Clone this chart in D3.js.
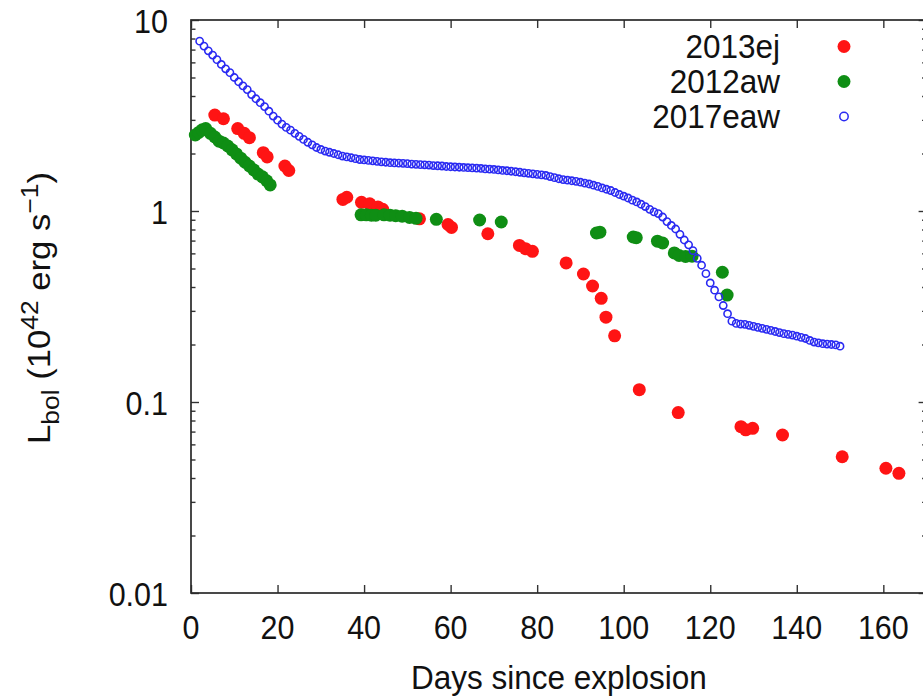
<!DOCTYPE html>
<html>
<head>
<meta charset="utf-8">
<script src="https://cdn.jsdelivr.net/npm/d3@7"></script>
<style>
  body { margin: 0; background: #fff; }
  svg { display: block; }
  text { font-family: "Liberation Sans", Arial, Helvetica, sans-serif; fill: #111; }
</style>
</head>
<body>
<svg id="chart" width="923" height="700"></svg>
<script>
// Bolometric light curves: days since explosion vs L_bol (10^42 erg/s)

// SN 2013ej
const ej13Days = [5.5, 7.5, 10.8, 12.3, 13.5, 16.7, 17.6, 21.7, 22.6,
  35.1, 36.0, 39.4, 41.3, 43.2, 44.3, 52.8, 59.4, 60.2, 68.6, 75.9, 77.3, 78.9,
  86.7, 90.7, 92.8, 94.8, 95.9, 97.9, 103.6, 112.6, 127.1, 128.2, 129.8, 136.7,
  150.5, 160.6, 163.6];
const ej13Lum = [3.18, 3.04, 2.70, 2.55, 2.42, 2.02, 1.92, 1.72, 1.63,
  1.15, 1.18, 1.11, 1.09, 1.05, 1.02, 0.91, 0.85, 0.82, 0.76, 0.66, 0.635, 0.615,
  0.535, 0.468, 0.405, 0.349, 0.278, 0.222, 0.116, 0.088, 0.0743, 0.0715, 0.0728, 0.0672,
  0.0517, 0.045, 0.0423];

// SN 2012aw
const aw12Days = [1.0, 1.8, 2.6, 3.4, 4.5, 5.5, 6.5, 7.5, 8.5, 9.5, 10.5, 11.5, 12.5,
  13.5, 14.5, 15.5, 16.5, 17.5, 18.3,
  39.3, 40.5, 41.7, 42.7, 44.6, 46.0, 47.3, 48.8, 50.5, 52.0, 56.7, 66.7, 71.7,
  93.7, 94.5, 102.2, 102.9, 107.8, 109.0, 111.7, 112.8, 114.3, 115.8, 122.8, 123.9];
const aw12Lum = [2.50, 2.58, 2.66, 2.70, 2.55, 2.44, 2.32, 2.27, 2.19, 2.09, 1.99, 1.89, 1.80,
  1.72, 1.64, 1.56, 1.51, 1.44, 1.37,
  0.955, 0.955, 0.95, 0.95, 0.955, 0.95, 0.945, 0.94, 0.925, 0.915, 0.905, 0.897, 0.876,
  0.767, 0.775, 0.731, 0.725, 0.695, 0.68, 0.603, 0.585, 0.578, 0.58, 0.478, 0.363];

// SN 2017eaw
const eaw17Days = [2, 3, 4, 5, 6, 7, 8, 9, 10, 11, 12, 13, 14, 15, 16, 17, 18, 19, 20,
  21, 22, 23, 24, 25, 26, 27, 28, 29, 30, 31, 32, 33, 34, 35, 36, 37, 38, 39, 40,
  41, 42, 43, 44, 45, 46, 47, 48, 49, 50, 51, 52, 53, 54, 55, 56, 57, 58, 59, 60,
  61, 62, 63, 64, 65, 66, 67, 68, 69, 70, 71, 72, 73, 74, 75, 76, 77, 78, 79, 80,
  81, 82, 83, 84, 85, 86, 87, 88, 89, 90, 91, 92, 93, 94, 95, 96, 97, 98, 99, 100,
  101, 102, 103, 104, 105, 106, 107, 108, 109, 110, 111, 112, 113, 114, 115, 116, 117, 118, 119, 120,
  121, 122, 123, 124, 125, 126, 127, 128, 129, 130, 131, 132, 133, 134, 135, 136, 137, 138, 139, 140,
  141, 142, 143, 144, 145, 146, 147, 148, 149, 150];
const eaw17Lum = [7.75, 7.3, 6.9, 6.55, 6.2, 5.85, 5.55, 5.3, 5.0, 4.75, 4.52, 4.32, 4.07, 3.87, 3.69, 3.52, 3.33, 3.14, 2.99,
  2.85, 2.74, 2.65, 2.55, 2.46, 2.37, 2.29, 2.22, 2.15, 2.10, 2.06, 2.03, 2.0, 1.97, 1.94, 1.92, 1.90, 1.88, 1.86, 1.85,
  1.84, 1.83, 1.82, 1.81, 1.80, 1.79, 1.785, 1.78, 1.775, 1.77, 1.76, 1.755, 1.75, 1.745, 1.74, 1.73, 1.725, 1.72, 1.71, 1.705,
  1.70, 1.695, 1.69, 1.685, 1.68, 1.675, 1.67, 1.66, 1.655, 1.65, 1.64, 1.63, 1.625, 1.615, 1.605, 1.595, 1.585, 1.575, 1.565, 1.555,
  1.545, 1.535, 1.515, 1.495, 1.475, 1.46, 1.45, 1.44, 1.43, 1.415, 1.40, 1.385, 1.365, 1.345, 1.32, 1.30, 1.28, 1.25, 1.22, 1.195,
  1.17, 1.14, 1.115, 1.085, 1.055, 1.02, 0.99, 0.97, 0.93, 0.88, 0.84, 0.805, 0.755, 0.705, 0.665, 0.62, 0.565, 0.52, 0.47, 0.42,
  0.385, 0.355, 0.32, 0.29, 0.265, 0.258, 0.256, 0.255, 0.252, 0.249, 0.246, 0.243, 0.24, 0.237, 0.234, 0.231, 0.228, 0.226, 0.224, 0.221,
  0.218, 0.215, 0.21, 0.206, 0.204, 0.202, 0.201, 0.2, 0.199, 0.196];

// Axis ticks
const xTicks = [0, 20, 40, 60, 80, 100, 120, 140, 160];
const xTickLabels = ["0", "20", "40", "60", "80", "100", "120", "140", "160"];
const yTicks = [0.01, 0.1, 1, 10];
const yTickLabels = ["0.01", "0.1", "1", "10"];
const yMinorTicks = [0.02, 0.03, 0.04, 0.05, 0.06, 0.07, 0.08, 0.09,
  0.2, 0.3, 0.4, 0.5, 0.6, 0.7, 0.8, 0.9, 2, 3, 4, 5, 6, 7, 8, 9];

const seriesNames = ["2013ej", "2012aw", "2017eaw"];
const seriesColors = ["#ff1414", "#0f8e14", "#2a2af2"];

const svg = d3.select("#chart");
const plotL = 191, plotR = 926.6, plotT = 20, plotB = 593;

const x = d3.scaleLinear().domain([0, 170]).range([plotL, plotR]);
const y = d3.scaleLog().domain([0.01, 10]).range([plotB, plotT]);

const TXT_SY = 1.06;
function label(g, str, px, py, size, anchor) {
  return g.append("text")
    .attr("transform", `translate(${px},${py}) scale(1,${TXT_SY})`)
    .attr("text-anchor", anchor)
    .style("font-size", size + "px")
    .text(str);
}

// Tick marks (all pointing inward)
const tickStyle = g => {
  g.select(".domain").remove();
  g.selectAll(".tick line").attr("stroke", "#333").attr("stroke-width", 1.4);
};
svg.append("g").attr("transform", `translate(0,${plotB})`)
  .call(d3.axisBottom(x).tickValues(xTicks).tickSize(-8).tickFormat(""))
  .call(tickStyle);
svg.append("g").attr("transform", `translate(0,${plotT})`)
  .call(d3.axisTop(x).tickValues(xTicks).tickSize(-8).tickFormat(""))
  .call(tickStyle);
svg.append("g").attr("transform", `translate(${plotL},0)`)
  .call(d3.axisLeft(y).tickValues(yTicks).tickSize(-8).tickFormat(""))
  .call(tickStyle);
svg.append("g").attr("transform", `translate(${plotL},0)`)
  .call(d3.axisLeft(y).tickValues(yMinorTicks).tickSize(-4.5).tickFormat(""))
  .call(tickStyle);
svg.append("g").attr("transform", `translate(${plotR},0)`)
  .call(d3.axisRight(y).tickValues(yTicks).tickSize(-8).tickFormat(""))
  .call(tickStyle);
svg.append("g").attr("transform", `translate(${plotR},0)`)
  .call(d3.axisRight(y).tickValues(yMinorTicks).tickSize(-4.5).tickFormat(""))
  .call(tickStyle);

// Frame
svg.append("rect")
  .attr("x", plotL).attr("y", plotT)
  .attr("width", plotR - plotL).attr("height", plotB - plotT)
  .attr("fill", "none").attr("stroke", "#2a2a2a").attr("stroke-width", 1.7);

// Tick labels
const labels = svg.append("g");
xTicks.forEach((v, i) => label(labels, xTickLabels[i], x(v), plotB + 46, 30.5, "middle"));
yTicks.forEach((v, i) => label(labels, yTickLabels[i], plotL - 23, y(v) + 12.5, 30.5, "end"));

// Axis titles
label(labels, "Days since explosion", (plotL + plotR) / 2, 689, 31.5, "middle");
const yt = labels.append("text")
  .attr("transform", `translate(50,308) scale(1,1.1) rotate(-90)`)
  .attr("text-anchor", "middle")
  .style("font-size", "31.5px");
yt.append("tspan").text("L");
yt.append("tspan").attr("dy", 9).style("font-size", "24px").text("bol");
yt.append("tspan").attr("dy", -9).text(" (10");
yt.append("tspan").attr("dy", -12).style("font-size", "24px").text("42");
yt.append("tspan").attr("dy", 12).text(" erg s");
yt.append("tspan").attr("dy", -12).style("font-size", "24px").text("\u22121");
yt.append("tspan").attr("dy", 12).text(")");

// Data points
const plot = svg.append("g");
const ej13 = ej13Days.map((d, i) => [d, ej13Lum[i]]);
const aw12 = aw12Days.map((d, i) => [d, aw12Lum[i]]);
const eaw17 = eaw17Days.map((d, i) => [d, eaw17Lum[i]]);

plot.append("g").selectAll("circle").data(ej13).join("circle")
  .attr("cx", d => x(d[0])).attr("cy", d => y(d[1])).attr("r", 6.5)
  .attr("fill", seriesColors[0]);
plot.append("g").selectAll("circle").data(aw12).join("circle")
  .attr("cx", d => x(d[0])).attr("cy", d => y(d[1])).attr("r", 6.5)
  .attr("fill", seriesColors[1]);
plot.append("g").selectAll("circle").data(eaw17).join("circle")
  .attr("cx", d => x(d[0])).attr("cy", d => y(d[1])).attr("r", 3.6)
  .attr("fill", "none").attr("stroke", seriesColors[2]).attr("stroke-width", 1.6);

// Legend
const legend = svg.append("g");
seriesNames.forEach((name, i) => {
  const by = 57.5 + i * 35;
  label(legend, name, 780, by, 31.5, "end");
  if (i < 2) {
    legend.append("circle").attr("cx", 844).attr("cy", by - 11).attr("r", 6.5)
      .attr("fill", seriesColors[i]);
  } else {
    legend.append("circle").attr("cx", 844).attr("cy", by - 11).attr("r", 4.2)
      .attr("fill", "none").attr("stroke", seriesColors[i]).attr("stroke-width", 1.5);
  }
});
</script>
</body>
</html>
